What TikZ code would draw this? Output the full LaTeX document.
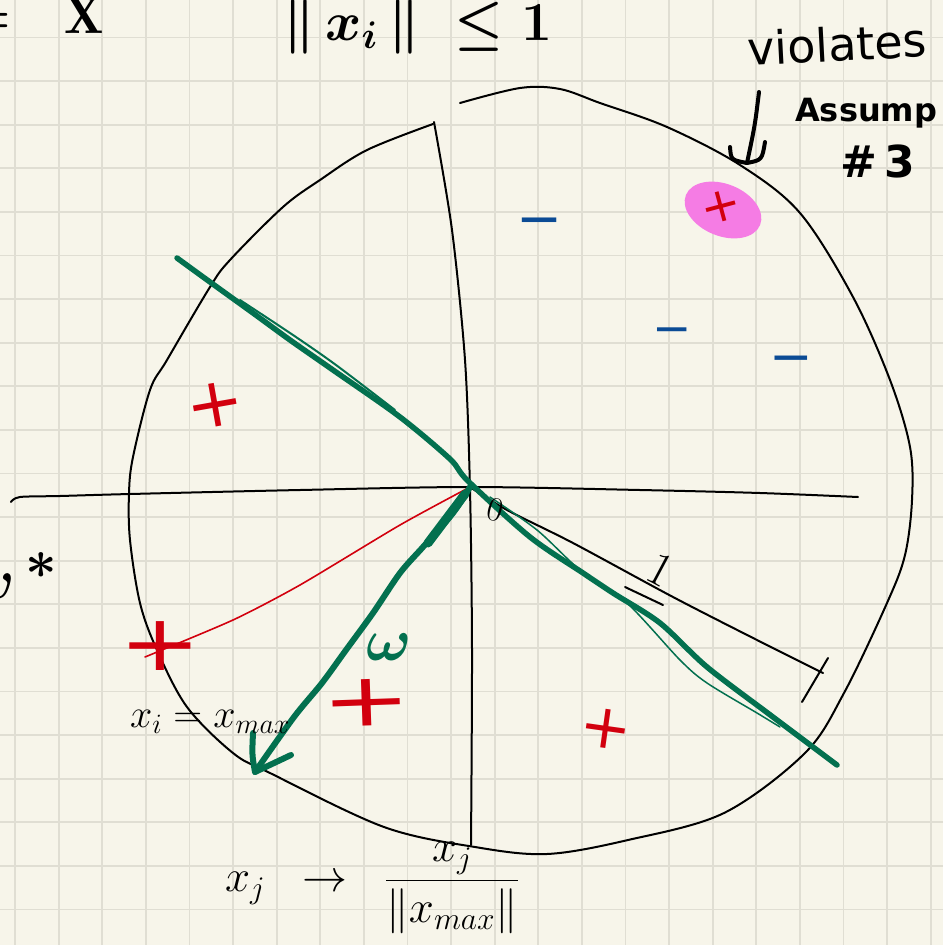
\RequirePackage{fix-cm}
\documentclass[tikz,border=0pt]{standalone}
\usepackage{amsmath}
\usepackage{fontspec}
\usepackage{tikz}
\usetikzlibrary{shapes.geometric}
\definecolor{PaperCream}{HTML}{F7F5EA}
\definecolor{GridGray}{HTML}{E0DED3}
\definecolor{PenGreen}{HTML}{03704F}
\definecolor{PenRed}{HTML}{D2000E}
\definecolor{PenBlue}{HTML}{0B4B95}
\definecolor{MarkerPink}{HTML}{F57CE4}
\newfontfamily\scribble{DejaVu Sans}

\begin{document}
\begin{tikzpicture}[x=1pt, y=-1pt,
    gridline/.style={draw=GridGray, line width=1.8pt},
    inkline/.style={line width=2pt, line cap=round, line join=round},
    greenpen/.style={draw=PenGreen, line width=5.5pt, line cap=round, line join=round},
    redpen/.style={draw=PenRed, line width=1.6pt, line cap=round, line join=round},
    boldpen/.style={line width=4pt, line cap=round, line join=round},
    handtext/.style={inner sep=0pt},
    plusmark/.style={inner sep=0pt, text=PenRed, font=\scribble},
    minusmark/.style={inner sep=0pt, anchor=north, text=PenBlue, font=\scribble}]
  \useasboundingbox (0,0) rectangle (943,945);
  \clip (0,0) rectangle (943,945);
  % paper
  \fill[PaperCream] (0,0) rectangle (943,945);
  \foreach \gx in {15,58.6,102.2,145.8,189.4,233,276.6,320.2,363.8,407.4,451,
      494.6,538.2,581.8,625.4,669,712.6,756.2,799.8,843.4,887,930.6}
    \draw[gridline] (\gx,0) -- (\gx,945);
  \foreach \gy in {37.5,81.1,124.7,168.3,211.9,255.5,299.1,342.7,386.3,429.9,473.5,
      517.1,560.7,604.3,647.9,691.5,735.1,778.7,822.3,865.9,909.5}
    \draw[gridline] (0,\gy) -- (943,\gy);

  \coordinate (O) at (470,487);
  \coordinate (unitend) at (823,673);
  \coordinate (wtip) at (255,772);
  \coordinate (xmax) at (145,657);
  \coordinate (violtail) at (759,92);
  \coordinate (violtip) at (747,163);

  % highlighted point
  \node[ellipse, fill=MarkerPink, minimum width=80pt, minimum height=52pt,
        inner sep=0pt, rotate=-22] (blob) at (723,210) {};

  % axes and ball
  \draw[inkline] plot[smooth, tension=0.5] coordinates {(11,502) (20,497) (60,496)
    (130,494) (300,490) (O) (640,490) (760,493) (858,497)};
  \draw[inkline] plot[smooth, tension=0.5] coordinates {(434,122) (452,230) (465,360)
    (470,490) (472,650) (471,845)};
  \draw[inkline] plot[smooth, tension=0.55] coordinates {(460,103) (520,88) (560,89)
    (600,103) (667,127) (740,165) (800,213) (853,297) (890,380) (910,447) (912,500)
    (905,555) (887,603) (844,693) (805,753) (724,813) (628,840) (547,854) (475,847)
    (384,827) (270,773) (233,753) (187,707) (157,650) (140,603) (130,540) (129,493)
    (133,457) (150,390) (167,360) (210,287) (230,260) (283,207) (320,180) (367,150)
    (433,124)};

  % radius of length one
  \draw[inkline] plot[smooth, tension=0.5] coordinates {(O) (507,510) (573,543)
    (673,597) (757,640) (unitend)};
  \draw[inkline] (625,587) -- (663,605);
  \draw[inkline] (802,702) -- (828,658);

  % x_max
  \draw[redpen] plot[smooth, tension=0.4] coordinates {(O) (400,525) (300,585)
    (233,620) (xmax)};

  % separator
  \draw[greenpen] plot[smooth, tension=0.5] coordinates {(177,258) (210,282) (253,313)
    (290,340) (333,370) (400,417) (450,459) (468,481) (530,537) (583,573) (613,593)
    (660,623) (707,667) (773,717) (837,765)};
  \draw[PenGreen, line width=1.5pt, line cap=round] plot[smooth, tension=0.5]
    coordinates {(490,497) (537,530) (580,570) (627,603) (680,660) (707,683)
    (757,713) (780,727)};
  \draw[PenGreen, line width=2pt, line cap=round] plot[smooth, tension=0.5]
    coordinates {(240,300) (293,335) (336,365) (395,410)};

  % w
  \draw[greenpen, line width=6pt] plot[smooth, tension=0.5] coordinates {(O) (453,513)
    (423,547) (400,573) (373,613) (346,650) (322,683) (294,717) (wtip)};
  \draw[greenpen, line width=9pt] (465,494) -- (428,543);
  \draw[greenpen, line width=6pt] (253,733) .. controls (252,755) .. (wtip) -- (291,755);

  % violates arrow
  \draw[boldpen] (violtail) .. controls (755,125) .. (violtip);
  \draw[boldpen] (730,147) .. controls (731,160) .. (violtip)
    .. controls (762,160) .. (765,142);

  % class marks
  \node[plusmark, rotate=10] (plusA) at (215,405) {\fontsize{69}{72}\selectfont +};
  \node[plusmark, rotate=2] (plusB) at (367,703) {\fontsize{74}{76}\selectfont\scalebox{1.45}[1]{+}};
  \node[plusmark, rotate=-8] (plusC) at (606,729) {\fontsize{62}{64}\selectfont +};
  \node[plusmark, rotate=15] (plusD) at (721,207) {\fontsize{48}{50}\selectfont +};
  \node[plusmark] (plusE) at (160,646) {\fontsize{78}{80}\selectfont\scalebox{1.25}[1]{+}};
  \node[minusmark] (minusA) at (540,218) {\fontsize{55}{58}\selectfont −};
  \node[minusmark] (minusB) at (672,328) {\fontsize{47}{50}\selectfont −};
  \node[minusmark] (minusC) at (791,356) {\fontsize{52}{54}\selectfont −};

  % labels
  \node[handtext, anchor=base east, font=\fontsize{52}{56}\selectfont\boldmath] (xset) at (104,33) {$=\mkern11mu\mathrm{X}$};
  \node[handtext, anchor=base west, font=\fontsize{55}{60}\selectfont\boldmath] (normbound) at (283,40) {$\|\,x_i\,\|\;\le 1$};
  \node[handtext, anchor=base west, rotate=3, font=\scribble\fontsize{46}{48}\selectfont] (violates) at (748,66) {violates};
  \node[handtext, anchor=base west, font=\scribble\bfseries\fontsize{32}{36}\selectfont] (assump) at (795,121) {Assump};
  \node[handtext, anchor=base west, font=\scribble\bfseries\fontsize{44}{48}\selectfont] (assumpno) at (840,177) {\#\,3};
  \node[handtext, anchor=base east, font=\fontsize{55}{60}\selectfont\boldmath] (wstar) at (58,598) {$w^{\textstyle\mkern3mu\ast}$};
  \node[handtext, text=PenGreen, font=\fontsize{60}{64}\selectfont\boldmath] (wlabel) at (389,647) {$\omega$};
  \node[handtext, anchor=base west, font=\fontsize{40}{44}\selectfont] (xmaxlabel) at (130,727) {$x_i=x_{max}$};
  \node[handtext, anchor=west, font=\fontsize{45}{50}\selectfont] (rescale) at (225,888) {$x_j\;\;\rightarrow\;\;\dfrac{x_j}{\|x_{max}\|}$};
  \node[handtext, rotate=-28, font=\fontsize{48}{50}\selectfont] (unitlabel) at (660,570) {$1$};
  \node[handtext, rotate=-15, font=\fontsize{34}{36}\selectfont] (zero) at (495,510) {$0$};
\end{tikzpicture}
\end{document}
